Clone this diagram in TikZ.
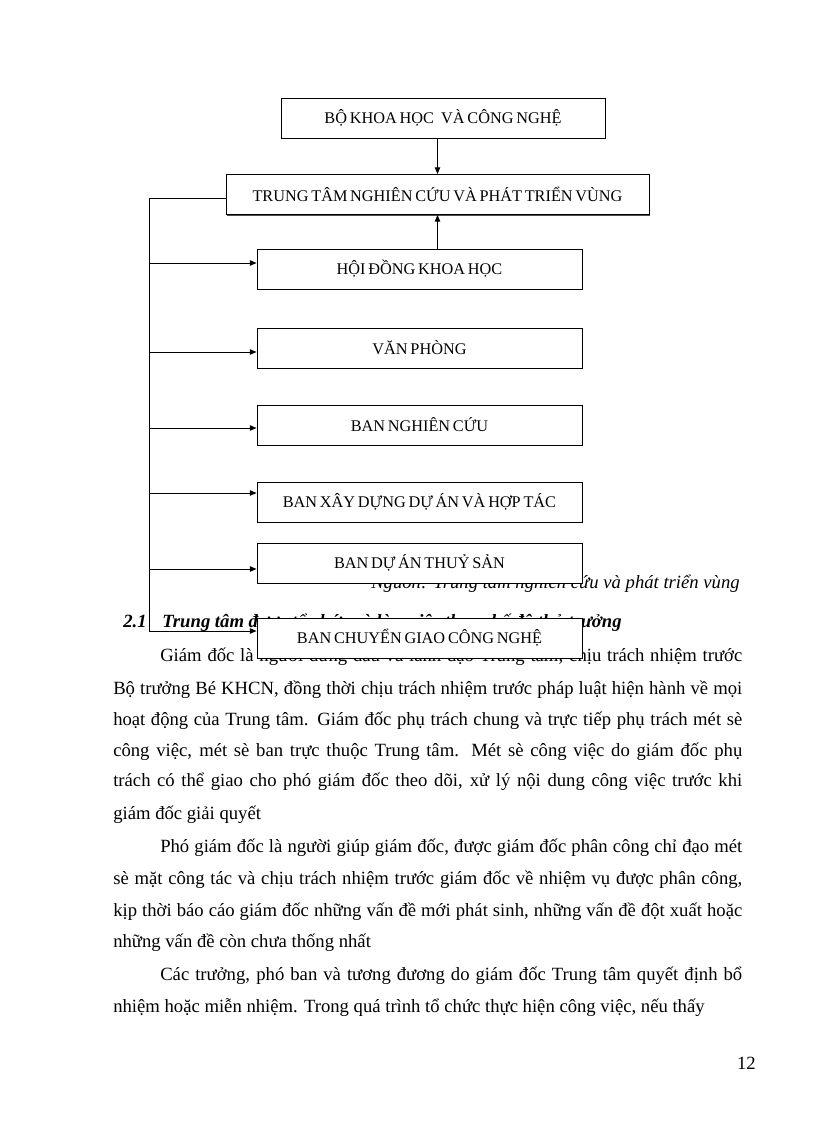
\documentclass[tikz,border=0pt]{standalone}
\usepackage{fontspec}
\setmainfont{Liberation Serif}
\usetikzlibrary{arrows.meta,shadows}
\newcommand{\bodyfont}{\fontsize{14pt}{17pt}\selectfont}
\newcommand{\boxfont}{\fontsize{12.2pt}{14pt}\selectfont\spaceskip=0.17em plus 0.03em}
\begin{document}
\begin{tikzpicture}[x=0.75pt,y=-0.75pt,
  orgbox/.style={draw, line width=0.65pt, fill=white, minimum height=30pt, inner sep=0pt, font=\boxfont,
    drop shadow={shadow xshift=0.8pt, shadow yshift=-0.8pt, opacity=1, fill=black!70}},
  unitbox/.style={orgbox, minimum width=243.75pt},
  bodyline/.style={anchor=base west, inner sep=0pt, font=\bodyfont},
  arr/.style={line width=0.7pt, -{Triangle[length=5pt,width=4pt]}},
  link/.style={line width=0.7pt}]
\fill[white] (0,0) rectangle (816,1123);
\useasboundingbox (0,0) rectangle (816,1123);

% ---- text of the page (under the diagram) ----
\node[bodyline, anchor=base east, font={\bodyfont\itshape}] (src) at (740,588) {Nguồn: Trung tâm nghiên cứu và phát triển vùng};
\node[bodyline, font={\bodyfont\bfseries\itshape}] (hnum) at (123,627) {2.1};
\node[bodyline, font={\bodyfont\bfseries\itshape}] (htxt) at (162,627) {Trung tâm được tổ chức và làm việc theo chế độ thủ trưởng};

\node[bodyline] (l1) at (160,661) {\makebox[436.5pt][s]{Giám đốc là người đứng đầu và lãnh đạo Trung tâm, chịu trách nhiệm trước}};
\node[bodyline] (l2) at (113,694) {\makebox[471.75pt][s]{Bộ trưởng Bé KHCN, đồng thời chịu trách nhiệm trước pháp luật hiện hành về mọi}};
\node[bodyline] (l3) at (113,725) {\makebox[471.75pt][s]{hoạt động của Trung tâm. Giám đốc phụ trách chung và trực tiếp phụ trách mét sè}};
\node[bodyline] (l4) at (113,756) {\makebox[471.75pt][s]{công việc, mét sè ban trực thuộc Trung tâm. Mét sè công việc do giám đốc phụ}};
\node[bodyline] (l5) at (113,786) {\makebox[471.75pt][s]{trách có thể giao cho phó giám đốc theo dõi, xử lý nội dung công việc trước khi}};
\node[bodyline] (l6) at (113,819) {giám đốc giải quyết};
\node[bodyline] (l7) at (160,852) {\makebox[436.5pt][s]{Phó giám đốc là người giúp giám đốc, được giám đốc phân công chỉ đạo mét}};
\node[bodyline] (l8) at (113,884) {\makebox[471.75pt][s]{sè mặt công tác và chịu trách nhiệm trước giám đốc về nhiệm vụ được phân công,}};
\node[bodyline] (l9) at (113,916) {\makebox[471.75pt][s]{kịp thời báo cáo giám đốc những vấn đề mới phát sinh, những vấn đề đột xuất hoặc}};
\node[bodyline] (l10) at (113,947) {những vấn đề còn chưa thống nhất};
\node[bodyline] (l11) at (160,980) {\makebox[436.5pt][s]{Các trưởng, phó ban và tương đương do giám đốc Trung tâm quyết định bổ}};
\node[bodyline] (l12) at (113,1012) {nhiệm hoặc miễn nhiệm. Trong quá trình tổ chức thực hiện công việc, nếu thấy};
\node[bodyline, anchor=base east] (pg) at (756,1069) {12};

% ---- diagram ----
\node[orgbox, minimum width=243pt] (b1) at (443,118) {BỘ KHOA HỌC\hspace{0.45em}VÀ CÔNG NGHỆ};
\node[orgbox, minimum width=317.25pt] (b2) at (437.5,194.5) {TRUNG TÂM NGHIÊN CỨU VÀ PHÁT TRIỂN VÙNG};
\node[unitbox] (b3) at (419.5,269) {HỘI ĐỒNG KHOA HỌC};
\node[unitbox] (b4) at (419.5,348) {VĂN PHÒNG};
\node[unitbox] (b5) at (419.5,425) {BAN NGHIÊN CỨU};
\node[unitbox] (b6) at (419.5,502) {BAN XÂY DỰNG DỰ ÁN VÀ HỢP TÁC};
\node[unitbox] (b7) at (419.5,563) {BAN DỰ ÁN THUỶ SẢN};
\node[unitbox] (b8) at (419.5,638) {BAN CHUYỂN GIAO CÔNG NGHỆ};

\draw[arr] (b1.south -| b2.north) -- (b2.north);
\draw[arr] (b3.north -| b2.south) -- (b2.south);

\coordinate (t0) at (226,198);
\coordinate (t3) at (149,263);
\coordinate (t4) at (149,352);
\coordinate (t5) at (149,428);
\coordinate (t6) at (149,493);
\coordinate (t7) at (149,569);
\coordinate (t8) at (149,631);
\draw[link] (t0) -| (t8);
\draw[arr] (t3) -- (t3 -| b3.west);
\draw[arr] (t4) -- (t4 -| b4.west);
\draw[arr] (t5) -- (t5 -| b5.west);
\draw[arr] (t6) -- (t6 -| b6.west);
\draw[arr] (t7) -- (t7 -| b7.west);
\draw[arr] (t8) -- (t8 -| b8.west);
\end{tikzpicture}
\end{document}
